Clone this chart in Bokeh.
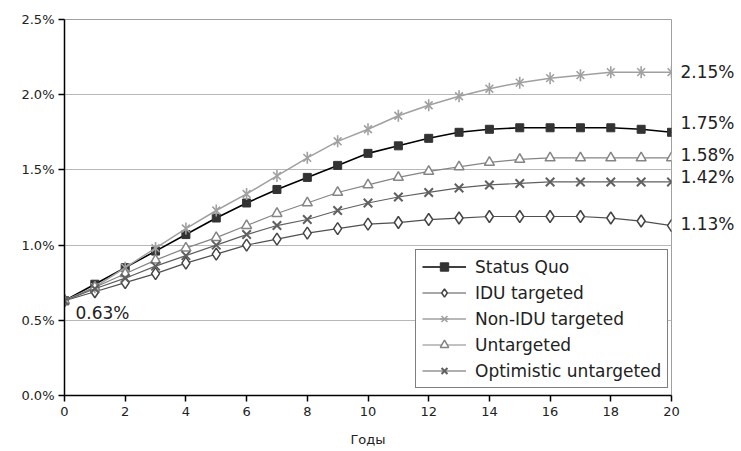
import math
from bokeh.plotting import figure
from bokeh.models import (Range1d, FixedTicker, PrintfTickFormatter, Legend, LegendItem,
                          ColumnDataSource, Label, LinearAxis)
from bokeh.embed import file_html
from bokeh.resources import INLINE

years = list(range(21))
status_quo = [0.63, 0.74, 0.85, 0.96, 1.07, 1.18, 1.28, 1.37, 1.45, 1.53, 1.61, 1.66, 1.71, 1.75, 1.77, 1.78, 1.78, 1.78, 1.78, 1.77, 1.75]
idu_targeted = [0.63, 0.69, 0.75, 0.81, 0.88, 0.94, 1.00, 1.04, 1.08, 1.11, 1.14, 1.15, 1.17, 1.18, 1.19, 1.19, 1.19, 1.19, 1.18, 1.16, 1.13]
non_idu_targeted = [0.63, 0.72, 0.85, 0.98, 1.11, 1.23, 1.34, 1.46, 1.58, 1.69, 1.77, 1.86, 1.93, 1.99, 2.04, 2.08, 2.11, 2.13, 2.15, 2.15, 2.15]
untargeted = [0.63, 0.72, 0.81, 0.90, 0.98, 1.05, 1.13, 1.21, 1.28, 1.35, 1.40, 1.45, 1.49, 1.52, 1.55, 1.57, 1.58, 1.58, 1.58, 1.58, 1.58]
optimistic = [0.63, 0.71, 0.78, 0.86, 0.93, 1.00, 1.07, 1.13, 1.17, 1.23, 1.28, 1.32, 1.35, 1.38, 1.40, 1.41, 1.42, 1.42, 1.42, 1.42, 1.42]
series_names = ["Status Quo", "IDU targeted", "Non-IDU targeted", "Untargeted", "Optimistic untargeted"]
end_labels = ["1.75%", "1.13%", "2.15%", "1.58%", "1.42%"]
start_label = "0.63%"
x_ticks = list(range(0, 21, 2))
y_ticks = [0.0, 0.5, 1.0, 1.5, 2.0, 2.5]
x_title = "Годы"

FONT = "DejaVu Sans"
TXT = "#222222"

W, H = 737, 451
BL, BR, BT, BB = 64, 65, 19, 56
Y0, Y1 = 0.0, 2.5

p = figure(width=W, height=H, output_backend="svg", toolbar_location=None,
           x_range=Range1d(0, 20), y_range=Range1d(Y0, Y1),
           min_border_left=BL, min_border_right=BR, min_border_top=BT, min_border_bottom=BB)
p.background_fill_color = "white"
p.border_fill_color = "white"
p.outline_line_color = "#a0a0a0"
p.outline_line_width = 1
p.xgrid.grid_line_color = None
p.ygrid.grid_line_color = "#b8b8b8"
p.ygrid.grid_line_width = 1
p.ygrid.ticker = FixedTicker(ticks=y_ticks)

for ax in (p.xaxis[0], p.yaxis[0]):
    ax.axis_line_color = "black"
    ax.axis_line_width = 1.5
    ax.major_tick_line_color = "black"
    ax.major_tick_line_width = 1.5
    ax.major_tick_in = 0
    ax.major_tick_out = 6
    ax.minor_tick_line_color = None
    ax.major_label_text_font = FONT
    ax.major_label_text_font_size = "13px"
    ax.major_label_text_color = TXT

p.xaxis.ticker = FixedTicker(ticks=x_ticks)
p.yaxis.ticker = FixedTicker(ticks=y_ticks)
p.yaxis.formatter = PrintfTickFormatter(format="%.1f%%")
p.yaxis.major_label_standoff = 4
p.xaxis.major_label_standoff = 5
p.xaxis.axis_label = x_title
p.xaxis.axis_label_text_font = FONT
p.xaxis.axis_label_text_font_size = "13px"
p.xaxis.axis_label_text_font_style = "normal"
p.xaxis.axis_label_text_color = TXT
p.xaxis.axis_label_standoff = 13

data = [status_quo, idu_targeted, non_idu_targeted, untargeted, optimistic]
src = [ColumnDataSource(dict(x=years, y=d)) for d in data]

# Status Quo
r1 = p.line("x", "y", source=src[0], line_color="black", line_width=1.6)
m1 = p.scatter("x", "y", source=src[0], marker="square", size=8, fill_color="#333333", line_color="#333333")
# IDU targeted
r2 = p.line("x", "y", source=src[1], line_color="#505050", line_width=1.2)
m2 = p.scatter("x", "y", source=src[1], marker="diamond", size=12, fill_color="white", line_color="#444444", line_width=1.5)
# Non-IDU targeted
r3 = p.line("x", "y", source=src[2], line_color="#a0a0a0", line_width=1.5)
m3a = p.scatter("x", "y", source=src[2], marker="x", size=11, line_color="#a0a0a0", line_width=1.6)
m3b = p.scatter("x", "y", source=src[2], marker="dash", angle=math.pi / 2, size=12, line_color="#a0a0a0", line_width=1.6)
# Untargeted
r4 = p.line("x", "y", source=src[3], line_color="#858585", line_width=1.2)
m4 = p.scatter("x", "y", source=src[3], marker="triangle", size=10, fill_color="white", line_color="#858585", line_width=1.5)
# Optimistic untargeted
r5 = p.line("x", "y", source=src[4], line_color="#606060", line_width=1.2)
m5 = p.scatter("x", "y", source=src[4], marker="x", size=12, line_color="#606060", line_width=2)

renderers = [[r1, m1], [r2, m2], [r3, m3a, m3b], [r4, m4], [r5, m5]]
legend = Legend(items=[LegendItem(label=n, renderers=rs) for n, rs in zip(series_names, renderers)],
                location=(351, 7))
legend.border_line_color = "black"
legend.border_line_width = 1.5
legend.background_fill_color = "white"
legend.background_fill_alpha = 1
legend.label_text_font = FONT
legend.label_text_font_size = "17px"
legend.label_text_color = TXT
legend.glyph_width = 44
legend.glyph_height = 21
legend.label_height = 21
legend.spacing = 5
legend.padding = 6
legend.margin = 0
legend.label_standoff = 9
p.add_layout(legend, "center")

# End-of-series value labels: a right-hand axis whose ticks sit at the final values
px_per_unit = (H - BT - BB) / (Y1 - Y0)
yoffs = [9, 2, 0, 3, 5]  # small upward nudges in pixels
end_pos = [d[-1] + yo / px_per_unit for d, yo in zip(data, yoffs)]
right_ax = LinearAxis(ticker=FixedTicker(ticks=end_pos),
                      major_label_overrides={pos: lab for pos, lab in zip(end_pos, end_labels)})
right_ax.axis_line_color = None
right_ax.major_tick_line_color = None
right_ax.minor_tick_line_color = None
right_ax.major_tick_in = 0
right_ax.major_tick_out = 0
right_ax.major_label_standoff = 9
right_ax.major_label_text_font = FONT
right_ax.major_label_text_font_size = "17px"
right_ax.major_label_text_color = TXT
p.add_layout(right_ax, "right")

p.add_layout(Label(x=years[0], y=status_quo[0], text=start_label, x_offset=11, y_offset=-12,
                   text_font=FONT, text_font_size="17px", text_color=TXT,
                   text_baseline="middle", text_align="left"))

open("out.html", "w").write(file_html(p, INLINE))
